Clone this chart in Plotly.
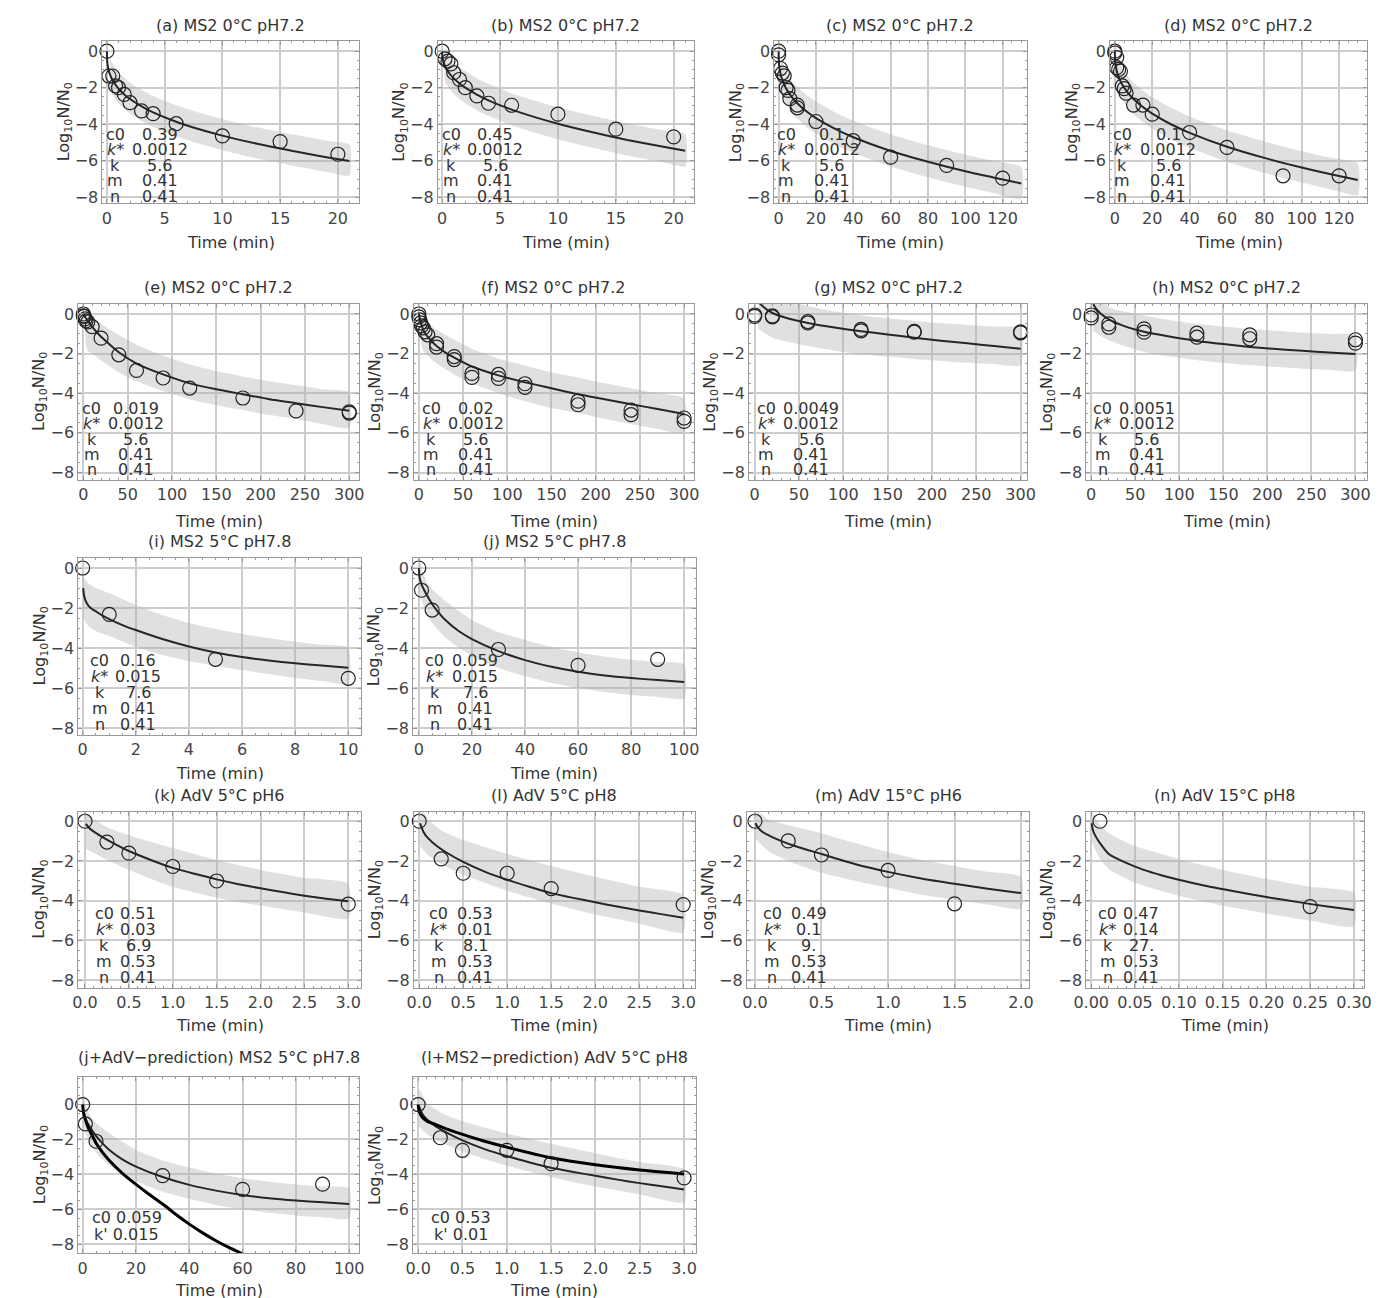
import plotly.graph_objects as go

# ---------------- data ----------------
PARAM_LABELS = ["c0", "<i>k</i>*", "k", "m", "n"]

A_T = [0, 0.17, 0.5, 0.75, 1, 1.5, 2, 3, 4, 6, 10, 15, 20]
A_Y = [0, -1.36, -1.36, -1.9, -2.0, -2.37, -2.82, -3.27, -3.42, -3.97, -4.64, -4.95, -5.64]
A_FIT_T = [0, 0.02, 0.1, 0.25, 0.5, 1, 1.5, 2, 3, 4, 6, 8, 10, 13, 16, 19, 21]
A_FIT_Y = [0, -0.51, -0.91, -1.26, -1.6, -2.05, -2.37, -2.62, -3.02, -3.35, -3.86, -4.27, -4.62, -5.07, -5.45, -5.8, -6.01]
A_BAND_T = [0.25, 0.5, 1, 2, 3, 4, 6, 8, 10, 13, 16, 19, 21]
A_BAND_HI = [-0.36, -0.7, -1.15, -1.72, -2.12, -2.45, -2.96, -3.37, -3.72, -4.17, -4.55, -4.9, -5.11]
A_BAND_LO = [-2.06, -2.4, -2.85, -3.42, -3.82, -4.15, -4.66, -5.07, -5.42, -5.87, -6.25, -6.6, -6.81]
A_PARAMS = ["0.39", "0.0012", "5.6", "0.41", "0.41"]

B_T = [0, 0.25, 0.5, 0.75, 1, 1.5, 2, 3, 4, 6, 10, 15, 20]
B_Y = [0, -0.42, -0.55, -0.7, -1.18, -1.55, -2.0, -2.45, -2.85, -2.96, -3.45, -4.27, -4.69]
B_FIT_T = [0, 0.02, 0.1, 0.25, 0.5, 1, 1.5, 2, 3, 4, 6, 8, 10, 13, 16, 19, 21]
B_FIT_Y = [0, -0.28, -0.56, -0.82, -1.11, -1.49, -1.77, -2.0, -2.38, -2.69, -3.2, -3.61, -3.97, -4.44, -4.86, -5.22, -5.45]
B_BAND_T = [0.2, 0.5, 1, 2, 3, 4, 6, 8, 10, 13, 16, 19, 21]
B_BAND_HI = [0.15, -0.21, -0.59, -1.1, -1.48, -1.79, -2.3, -2.71, -3.07, -3.54, -3.96, -4.32, -4.55]
B_BAND_LO = [-1.6, -1.96, -2.34, -2.85, -3.23, -3.54, -4.05, -4.46, -4.82, -5.29, -5.71, -6.07, -6.3]
B_PARAMS = ["0.45", "0.0012", "5.6", "0.41", "0.41"]

C_T = [0, 0, 1, 2, 3, 4, 5, 6, 10, 10, 20, 40, 60, 90, 120]
C_Y = [0, -0.2, -0.95, -1.2, -1.35, -2.0, -2.15, -2.6, -2.95, -3.1, -3.85, -4.9, -5.8, -6.25, -6.95]
C_FIT_T = [0, 0.02, 0.1, 0.3, 1, 2, 4, 7, 10, 15, 20, 30, 40, 60, 80, 100, 115, 130]
C_FIT_Y = [0, -0.3, -0.54, -0.8, -1.24, -1.59, -2.04, -2.5, -2.85, -3.3, -3.66, -4.24, -4.71, -5.46, -6.05, -6.57, -6.91, -7.24]
C_BAND_T = [1.2, 2, 4, 7, 10, 15, 20, 30, 40, 60, 80, 100, 115, 130]
C_BAND_HI = [-0.42, -0.69, -1.14, -1.6, -1.95, -2.4, -2.76, -3.34, -3.81, -4.56, -5.15, -5.67, -6.01, -6.34]
C_BAND_LO = [-2.17, -2.44, -2.89, -3.35, -3.7, -4.15, -4.51, -5.09, -5.56, -6.31, -6.9, -7.42, -7.76, -8.09]
C_PARAMS = ["0.1", "0.0012", "5.6", "0.41", "0.41"]

D_T = [0, 0, 1, 1, 2, 3, 4, 5, 6, 10, 15, 20, 40, 60, 90, 120]
D_Y = [0, -0.1, -0.35, -0.9, -1.0, -1.1, -1.9, -2.05, -2.3, -2.95, -2.95, -3.45, -4.45, -5.27, -6.82, -6.82]
D_FIT_T = [0, 0.02, 0.1, 0.3, 1, 2, 4, 7, 10, 15, 20, 30, 40, 60, 80, 100, 115, 130]
D_FIT_Y = [0, -0.24, -0.44, -0.68, -1.08, -1.41, -1.84, -2.28, -2.62, -3.06, -3.42, -4.0, -4.47, -5.23, -5.84, -6.37, -6.72, -7.05]
D_BAND_T = [1, 2, 4, 7, 10, 15, 20, 30, 40, 60, 80, 100, 115, 130]
D_BAND_HI = [-0.18, -0.51, -0.94, -1.38, -1.72, -2.16, -2.52, -3.1, -3.57, -4.33, -4.94, -5.47, -5.82, -6.15]
D_BAND_LO = [-1.9, -2.23, -2.66, -3.1, -3.44, -3.88, -4.24, -4.82, -5.29, -6.05, -6.66, -7.19, -7.54, -7.87]
D_PARAMS = ["0.1", "0.0012", "5.6", "0.41", "0.41"]

E_T = [0, 0, 1, 2, 3, 5, 10, 20, 40, 60, 90, 120, 180, 240, 300, 300]
E_Y = [0, -0.1, -0.12, -0.25, -0.35, -0.4, -0.64, -1.22, -2.06, -2.85, -3.23, -3.74, -4.24, -4.89, -4.94, -5.0]
E_FIT_T = [0, 2, 5, 10, 20, 30, 40, 60, 90, 120, 150, 180, 210, 240, 270, 300]
E_FIT_Y = [0, -0.15, -0.35, -0.65, -1.15, -1.55, -1.93, -2.5, -3.05, -3.5, -3.8, -4.05, -4.3, -4.5, -4.7, -4.88]
E_BAND_T = [2, 3, 5, 10, 20, 40, 60, 90, 120, 150, 180, 210, 240, 270, 300]
E_BAND_HI = [0.15, 0.1, 0.0, -0.2, -0.5, -1.05, -1.55, -2.1, -2.55, -2.88, -3.15, -3.4, -3.6, -3.8, -3.95]
E_BAND_LO = [-0.9, -1.6, -1.85, -2.0, -2.35, -2.95, -3.4, -3.9, -4.3, -4.6, -4.85, -5.1, -5.3, -5.55, -5.75]
E_PARAMS = ["0.019", "0.0012", "5.6", "0.41", "0.41"]

F_T = [0, 0, 1, 2, 3, 5, 7, 10, 20, 20, 40, 40, 60, 60, 90, 90, 120, 120, 180, 180, 240, 240, 300, 300]
F_Y = [0, -0.15, -0.3, -0.45, -0.6, -0.7, -0.9, -1.05, -1.5, -1.67, -2.15, -2.3, -3.0, -3.2, -3.05, -3.25,
       -3.52, -3.7, -4.4, -4.58, -4.85, -5.08, -5.25, -5.42]
F_FIT_T = [0, 2, 5, 10, 20, 30, 40, 60, 90, 120, 150, 180, 210, 240, 270, 300]
F_FIT_Y = [0, -0.4, -0.8, -1.15, -1.62, -1.95, -2.2, -2.65, -3.1, -3.45, -3.75, -4.05, -4.3, -4.55, -4.8, -5.05]
F_BAND_T = [2, 3, 5, 10, 20, 40, 60, 90, 120, 150, 180, 210, 240, 270, 300]
F_BAND_HI = [-0.1, -0.2, -0.3, -0.45, -0.8, -1.3, -1.75, -2.25, -2.6, -2.95, -3.2, -3.5, -3.75, -4.0, -4.25]
F_BAND_LO = [-1.0, -1.6, -1.85, -2.1, -2.5, -3.05, -3.5, -4.0, -4.4, -4.75, -5.0, -5.3, -5.55, -5.8, -6.0]
F_PARAMS = ["0.02", "0.0012", "5.6", "0.41", "0.41"]

G_T = [0, 0, 20, 20, 60, 60, 120, 120, 180, 180, 300, 300]
G_Y = [-0.05, -0.12, -0.1, -0.15, -0.38, -0.45, -0.78, -0.85, -0.88, -0.92, -0.9, -0.95]
G_FIT_T = [1, 3, 10, 20, 40, 60, 90, 120, 150, 180, 210, 240, 270, 300]
G_FIT_Y = [1.0, 0.7, 0.35, 0.05, -0.25, -0.45, -0.68, -0.87, -1.03, -1.2, -1.35, -1.48, -1.62, -1.75]
G_BAND_T = [4, 20, 60, 90, 120, 150, 180, 210, 240, 270, 300]
G_BAND_HI = [1.5, 1.0, 0.4, 0.12, -0.08, -0.22, -0.35, -0.46, -0.56, -0.64, -0.72]
G_BAND_LO = [-0.75, -1.2, -1.62, -1.85, -2.03, -2.15, -2.27, -2.37, -2.46, -2.53, -2.6]
G_PARAMS = ["0.0049", "0.0012", "5.6", "0.41", "0.41"]

H_T = [0, 0, 20, 20, 60, 60, 120, 120, 180, 180, 300, 300]
H_Y = [-0.05, -0.2, -0.5, -0.67, -0.75, -0.92, -0.97, -1.17, -1.05, -1.25, -1.3, -1.47]
H_FIT_T = [1, 3, 10, 20, 40, 60, 90, 120, 150, 180, 210, 240, 270, 300]
H_FIT_Y = [0.9, 0.45, 0.05, -0.27, -0.65, -0.9, -1.15, -1.36, -1.52, -1.66, -1.77, -1.86, -1.94, -2.02]
H_BAND_T = [2, 20, 60, 90, 120, 150, 180, 210, 240, 270, 300]
H_BAND_HI = [1.5, 0.35, -0.08, -0.32, -0.5, -0.63, -0.75, -0.85, -0.94, -1.01, -1.08]
H_BAND_LO = [-0.83, -1.33, -1.92, -2.15, -2.33, -2.47, -2.58, -2.68, -2.76, -2.82, -2.87]
H_PARAMS = ["0.0051", "0.0012", "5.6", "0.41", "0.41"]

I_T = [0, 1, 5, 10]
I_Y = [0, -2.32, -4.56, -5.51]
I_FIT_T = [0.02, 0.05, 0.1, 0.2, 0.35, 0.5, 0.75, 1, 1.5, 2, 3, 4, 5, 6, 7, 8, 9, 10]
I_FIT_Y = [-1.0, -1.35, -1.6, -1.85, -2.05, -2.17, -2.38, -2.55, -2.85, -3.1, -3.55, -3.92, -4.22, -4.45,
           -4.62, -4.76, -4.87, -4.98]
I_BAND_T = [0.02, 0.1, 0.25, 0.5, 1, 2, 3, 4, 5, 6, 7, 8, 9, 10]
I_BAND_HI = [-0.4, -0.6, -0.8, -1.0, -1.25, -1.85, -2.35, -2.75, -3.05, -3.3, -3.5, -3.68, -3.83, -3.97]
I_BAND_LO = [-2.4, -2.7, -2.95, -3.15, -3.4, -3.95, -4.35, -4.65, -4.9, -5.1, -5.3, -5.5, -5.65, -5.8]
I_PARAMS = ["0.16", "0.015", "7.6", "0.41", "0.41"]

J_T = [0, 1, 5, 30, 60, 90]
J_Y = [0, -1.11, -2.1, -4.07, -4.86, -4.56]
J_FIT_T = [0, 0.2, 0.5, 1, 2, 3, 5, 7, 10, 15, 20, 30, 40, 50, 60, 70, 80, 90, 100]
J_FIT_Y = [0, -0.4, -0.6, -0.8, -1.1, -1.35, -1.8, -2.15, -2.6, -3.15, -3.55, -4.15, -4.6, -4.93, -5.18,
           -5.37, -5.5, -5.6, -5.7]
J_BAND_T = [0.2, 1, 3, 5, 10, 20, 30, 40, 50, 60, 70, 80, 90, 100]
J_BAND_HI = [0.95, 0.0, -0.7, -1.05, -1.65, -2.6, -3.2, -3.6, -3.95, -4.22, -4.42, -4.58, -4.7, -4.81]
J_BAND_LO = [-1.2, -1.6, -2.3, -2.74, -3.49, -4.4, -5.0, -5.4, -5.75, -6.0, -6.2, -6.35, -6.45, -6.52]
J_PARAMS = ["0.059", "0.015", "7.6", "0.41", "0.41"]

K_T = [0, 0.25, 0.5, 1, 1.5, 3]
K_Y = [0, -1.05, -1.61, -2.28, -3.01, -4.18]
K_FIT_T = [0.01, 0.05, 0.1, 0.2, 0.3, 0.5, 0.75, 1, 1.25, 1.5, 1.75, 2, 2.25, 2.5, 2.75, 3]
K_FIT_Y = [-0.13, -0.35, -0.52, -0.8, -1.05, -1.5, -1.95, -2.35, -2.65, -2.93, -3.17, -3.38, -3.57, -3.75,
           -3.9, -4.03]
K_BAND_T = [0.01, 0.1, 0.25, 0.5, 1, 1.5, 2, 2.5, 3]
K_BAND_HI = [0.45, 0.1, -0.3, -0.7, -1.35, -1.95, -2.45, -2.85, -3.15]
K_BAND_LO = [-1.4, -1.6, -1.95, -2.45, -3.3, -3.85, -4.25, -4.6, -4.9]
K_PARAMS = ["0.51", "0.03", "6.9", "0.53", "0.41"]

L_T = [0, 0.25, 0.5, 1, 1.5, 3]
L_Y = [0, -1.9, -2.62, -2.62, -3.39, -4.2]
L_FIT_T = [0.01, 0.05, 0.1, 0.2, 0.3, 0.5, 0.75, 1, 1.25, 1.5, 1.75, 2, 2.25, 2.5, 2.75, 3]
L_FIT_Y = [-0.1, -0.55, -0.85, -1.25, -1.55, -2.05, -2.55, -2.95, -3.3, -3.62, -3.86, -4.08, -4.3, -4.5,
           -4.68, -4.86]
L_BAND_T = [0.01, 0.1, 0.25, 0.5, 1, 1.5, 2, 2.5, 3]
L_BAND_HI = [0.9, 0.1, -0.45, -0.95, -1.65, -2.25, -2.8, -3.3, -3.72]
L_BAND_LO = [-1.25, -1.7, -2.15, -2.7, -3.5, -4.15, -4.7, -5.15, -5.6]
L_PARAMS = ["0.53", "0.01", "8.1", "0.53", "0.41"]

M_T = [0, 0.25, 0.5, 1, 1.5]
M_Y = [0, -0.99, -1.7, -2.48, -4.16]
M_FIT_T = [0.005, 0.02, 0.05, 0.1, 0.2, 0.3, 0.5, 0.75, 1, 1.25, 1.5, 1.75, 2]
M_FIT_Y = [-0.1, -0.3, -0.5, -0.7, -1.0, -1.25, -1.65, -2.15, -2.55, -2.88, -3.15, -3.4, -3.62]
M_BAND_T = [0.005, 0.1, 0.25, 0.5, 0.75, 1, 1.25, 1.5, 1.75, 2]
M_BAND_HI = [0.6, 0.1, -0.2, -0.6, -1.1, -1.55, -1.95, -2.25, -2.55, -2.8]
M_BAND_LO = [-0.9, -1.5, -2.0, -2.6, -3.0, -3.35, -3.7, -3.95, -4.2, -4.4]
M_PARAMS = ["0.49", "0.1", "9.", "0.53", "0.41"]

N_T = [0.01, 0.25]
N_Y = [0, -4.3]
N_FIT_T = [0.0005, 0.002, 0.005, 0.01, 0.02, 0.04, 0.06, 0.08, 0.1, 0.13, 0.16, 0.2, 0.24, 0.27, 0.3]
N_FIT_Y = [-0.1, -0.45, -0.75, -1.1, -1.65, -2.1, -2.45, -2.72, -2.95, -3.25, -3.5, -3.82, -4.1, -4.3, -4.47]
N_BAND_T = [0.0005, 0.01, 0.02, 0.05, 0.1, 0.15, 0.2, 0.25, 0.3]
N_BAND_HI = [0.5, -0.2, -0.6, -1.25, -1.9, -2.45, -2.9, -3.3, -3.6]
N_BAND_LO = [-1.05, -1.9, -2.4, -3.1, -3.75, -4.25, -4.65, -5.0, -5.3]
N_PARAMS = ["0.47", "0.14", "27.", "0.53", "0.41"]

JA_PRED_T = [0, 0.3, 1, 2, 3.5, 5, 7.5, 10, 15, 20, 25, 30, 35, 40, 45, 50, 55, 60, 65]
JA_PRED_Y = [0, -0.45, -0.85, -1.3, -1.75, -2.2, -2.75, -3.2, -3.95, -4.57, -5.15, -5.7, -6.3, -6.85, -7.35,
             -7.8, -8.2, -8.55, -8.9]
JA_TEXT = ["c0 0.059", "k' 0.015"]

LM_PRED_T = [0, 0.01, 0.03, 0.06, 0.1, 0.2, 0.35, 0.5, 0.75, 1, 1.5, 2, 2.5, 3]
LM_PRED_Y = [0, -0.35, -0.6, -0.8, -0.95, -1.15, -1.45, -1.71, -2.1, -2.44, -3.05, -3.45, -3.75, -3.98]
LM_TEXT = ["c0 0.53", "k' 0.01"]

TITLES = ["(a) MS2 0°C pH7.2", "(b) MS2 0°C pH7.2", "(c) MS2 0°C pH7.2", "(d) MS2 0°C pH7.2",
          "(e) MS2 0°C pH7.2", "(f) MS2 0°C pH7.2", "(g) MS2 0°C pH7.2", "(h) MS2 0°C pH7.2",
          "(i) MS2 5°C pH7.8", "(j) MS2 5°C pH7.8",
          "(k) AdV 5°C pH6", "(l) AdV 5°C pH8", "(m) AdV 15°C pH6", "(n) AdV 15°C pH8",
          "(j+AdV−prediction) MS2 5°C pH7.8", "(l+MS2−prediction) AdV 5°C pH8"]

# ---------------- layout / style ----------------
W, H = 1384, 1298
FONT = "DejaVu Sans"
FS = 16
TXT = "#333333"
GRID = "#cdcdcd"
FRAME = "#9a9a9a"
BAND = "rgba(170,170,170,0.36)"

ROWS = {
    1: dict(yr=[-8.33, 0.545], top=33.3, bot=196, ty=18, xl=235, p0=126.7, dp=15.6),
    2: dict(yr=[-8.37, 0.5], top=297, bot=473.3, ty=280, xl=515, p0=401.7, dp=15.4),
    3: dict(yr=[-8.33, 0.5], top=551.7, bot=729, ty=535, xl=768, p0=655, dp=16.0),
    4: dict(yr=[-8.4, 0.49], top=806, bot=983, ty=790, xl=1021, p0=908.3, dp=16.1),
    5: dict(yr=[-8.53, 1.58], top=1072.3, bot=1249.3, ty=1053, xl=1286, p0=1213.3, dp=16.7),
}


def P(row, L, R, xr, dtick, fmt, t, y, ft, fy, bt, bh, bl, params=None, lo=0, vo=0, pred=None, text2=None, to=0):
    return dict(row=row, L=L, R=R, xr=xr, dtick=dtick, fmt=fmt, t=t, y=y, ft=ft, fy=fy, bt=bt, bh=bh, bl=bl,
                params=params, lo=lo, vo=vo, pred=pred, text2=text2, to=to)


PANELS = [
    P(1, 82.7, 343.3, [-0.39, 21.84], 5, None, A_T, A_Y, A_FIT_T, A_FIT_Y, A_BAND_T, A_BAND_HI, A_BAND_LO, A_PARAMS, 13, 58),
    P(1, 423.3, 683.3, [-0.37, 21.75], 5, None, B_T, B_Y, B_FIT_T, B_FIT_Y, B_BAND_T, B_BAND_HI, B_BAND_LO, B_PARAMS, 13.4, 58.4),
    P(1, 765, 1021, [-2.27, 132.8], 20, None, C_T, C_Y, C_FIT_T, C_FIT_Y, C_BAND_T, C_BAND_HI, C_BAND_LO, C_PARAMS, 12, 58),
    P(1, 1106, 1366.7, [-2.48, 134.9], 20, None, D_T, D_Y, D_FIT_T, D_FIT_Y, D_BAND_T, D_BAND_HI, D_BAND_LO, D_PARAMS, 12.3, 58.7),
    P(2, 58.3, 343.3, [-5.56, 311.1], 50, None, E_T, E_Y, E_FIT_T, E_FIT_Y, E_BAND_T, E_BAND_HI, E_BAND_LO, E_PARAMS, 13.4, 58.4),
    P(2, 399, 683.3, [-5.57, 311.1], 50, None, F_T, F_Y, F_FIT_T, F_FIT_Y, F_BAND_T, F_BAND_HI, F_BAND_LO, F_PARAMS, 17.7, 62.7),
    P(2, 739.3, 1022, [-6.3, 307.8], 50, None, G_T, G_Y, G_FIT_T, G_FIT_Y, G_BAND_T, G_BAND_HI, G_BAND_LO, G_PARAMS, 17.4, 63),
    P(2, 1081.7, 1366.7, [-5.6, 313.1], 50, None, H_T, H_Y, H_FIT_T, H_FIT_Y, H_BAND_T, H_BAND_HI, H_BAND_LO, H_PARAMS, 16.6, 61.6),
    P(3, 58.3, 345, [-0.16, 10.47], 2, None, I_T, I_Y, I_FIT_T, I_FIT_Y, I_BAND_T, I_BAND_HI, I_BAND_LO, I_PARAMS, 21.7, 60.7),
    P(3, 398.3, 685, [-2.1, 104.3], 20, None, J_T, J_Y, J_FIT_T, J_FIT_Y, J_BAND_T, J_BAND_HI, J_BAND_LO, J_PARAMS, 21.7, 62.7),
    P(4, 58.3, 345, [-0.075, 3.142], 0.5, ".1f", K_T, K_Y, K_FIT_T, K_FIT_Y, K_BAND_T, K_BAND_HI, K_BAND_LO, K_PARAMS, 26, 61),
    P(4, 399, 684, [-0.06, 3.13], 0.5, ".1f", L_T, L_Y, L_FIT_T, L_FIT_Y, L_BAND_T, L_BAND_HI, L_BAND_LO, L_PARAMS, 25, 62),
    P(4, 737, 1024, [-0.061, 2.063], 0.5, ".1f", M_T, M_Y, M_FIT_T, M_FIT_Y, M_BAND_T, M_BAND_HI, M_BAND_LO, M_PARAMS, 26, 63),
    P(4, 1081.7, 1364, [-0.0056, 0.3118], 0.05, ".2f", N_T, N_Y, N_FIT_T, N_FIT_Y, N_BAND_T, N_BAND_HI, N_BAND_LO, N_PARAMS, 22, 56),
    P(5, 58.3, 343.3, [-1.6, 103.7], 20, None, J_T, J_Y, J_FIT_T, J_FIT_Y, J_BAND_T, J_BAND_HI, J_BAND_LO,
      pred=(JA_PRED_T, JA_PRED_Y), text2=JA_TEXT, to=49),
    P(5, 398.3, 685, [-0.055, 3.13], 0.5, ".1f", L_T, L_Y, L_FIT_T, L_FIT_Y, L_BAND_T, L_BAND_HI, L_BAND_LO,
      pred=(LM_PRED_T, LM_PRED_Y), text2=LM_TEXT, to=48.7),
]

fig = go.Figure()
annotations = []
axes = {}


def ann(x, y, text, size=FS, angle=0, color=TXT):
    annotations.append(dict(x=x / W, y=1 - y / H, xref="paper", yref="paper", text=text, showarrow=False,
                            xanchor="center", yanchor="middle", textangle=angle, borderpad=0,
                            font=dict(family=FONT, size=size, color=color)))


for i, p in enumerate(PANELS):
    n = i + 1
    xa = "x" if n == 1 else f"x{n}"
    ya = "y" if n == 1 else f"y{n}"
    r = ROWS[p["row"]]
    L, R, T, B = p["L"], p["R"], r["top"], r["bot"]

    bt = list(p["bt"])
    fig.add_trace(go.Scatter(x=bt + bt[::-1], y=list(p["bh"]) + list(p["bl"])[::-1], mode="lines",
                             fill="toself", fillcolor=BAND, line=dict(width=0, shape="spline", smoothing=0.5),
                             xaxis=xa, yaxis=ya, hoverinfo="skip", showlegend=False))
    fig.add_trace(go.Scatter(x=p["ft"], y=p["fy"], mode="lines",
                             line=dict(color="#262626", width=2, shape="spline", smoothing=0.6),
                             xaxis=xa, yaxis=ya, hoverinfo="skip", showlegend=False))
    if p["pred"] is not None:
        fig.add_trace(go.Scatter(x=p["pred"][0], y=p["pred"][1], mode="lines",
                                 line=dict(color="#000000", width=3, shape="spline", smoothing=0.6),
                                 xaxis=xa, yaxis=ya, hoverinfo="skip", showlegend=False))
    fig.add_trace(go.Scatter(x=p["t"], y=p["y"], mode="markers",
                             marker=dict(symbol="circle-open", size=14, color="#222222",
                                         line=dict(width=1.2, color="#222222")),
                             cliponaxis=False, xaxis=xa, yaxis=ya, hoverinfo="skip", showlegend=False))

    common = dict(showgrid=True, gridcolor=GRID, gridwidth=1.5, showline=True, linecolor=FRAME, linewidth=1,
                  mirror="allticks", ticks="inside", ticklen=4, tickcolor=FRAME, tickwidth=1,
                  tickfont=dict(family=FONT, size=FS, color="#444444"),
                  minor=dict(ticks="inside", ticklen=2, tickcolor=FRAME, showgrid=False))
    axes["xaxis" if n == 1 else f"xaxis{n}"] = dict(
        domain=[L / W, R / W], range=p["xr"], anchor=ya, tick0=0, dtick=p["dtick"], tickangle=0,
        tickformat=p["fmt"] if p["fmt"] else None, zeroline=False, **common)
    axes["yaxis" if n == 1 else f"yaxis{n}"] = dict(
        domain=[1 - B / H, 1 - T / H], range=r["yr"], anchor=xa, tick0=0, dtick=2,
        zeroline=(p["row"] == 5), zerolinecolor="#8a8a8a", zerolinewidth=1, **common)

    cx = (L + R) / 2
    ann(cx, r["ty"], TITLES[i])
    ann(cx, r["xl"], "Time (min)")
    ann(L - 39, (T + B) / 2, "Log<sub>10</sub>N/N<sub>0</sub>", angle=-90)

    if p["params"] is not None:
        for j, (lab, val) in enumerate(zip(PARAM_LABELS, p["params"])):
            yy = r["p0"] + j * r["dp"]
            ann(L + p["lo"], yy, lab)
            ann(L + p["vo"], yy, val)
    if p["text2"] is not None:
        for j, s in enumerate(p["text2"]):
            ann(L + p["to"], r["p0"] + j * r["dp"], s)

fig.update_layout(width=W, height=H, margin=dict(l=0, r=0, t=0, b=0), paper_bgcolor="white",
                  plot_bgcolor="white", showlegend=False, annotations=annotations,
                  font=dict(family=FONT, size=FS, color=TXT), **axes)

fig.write_html("out.html")
